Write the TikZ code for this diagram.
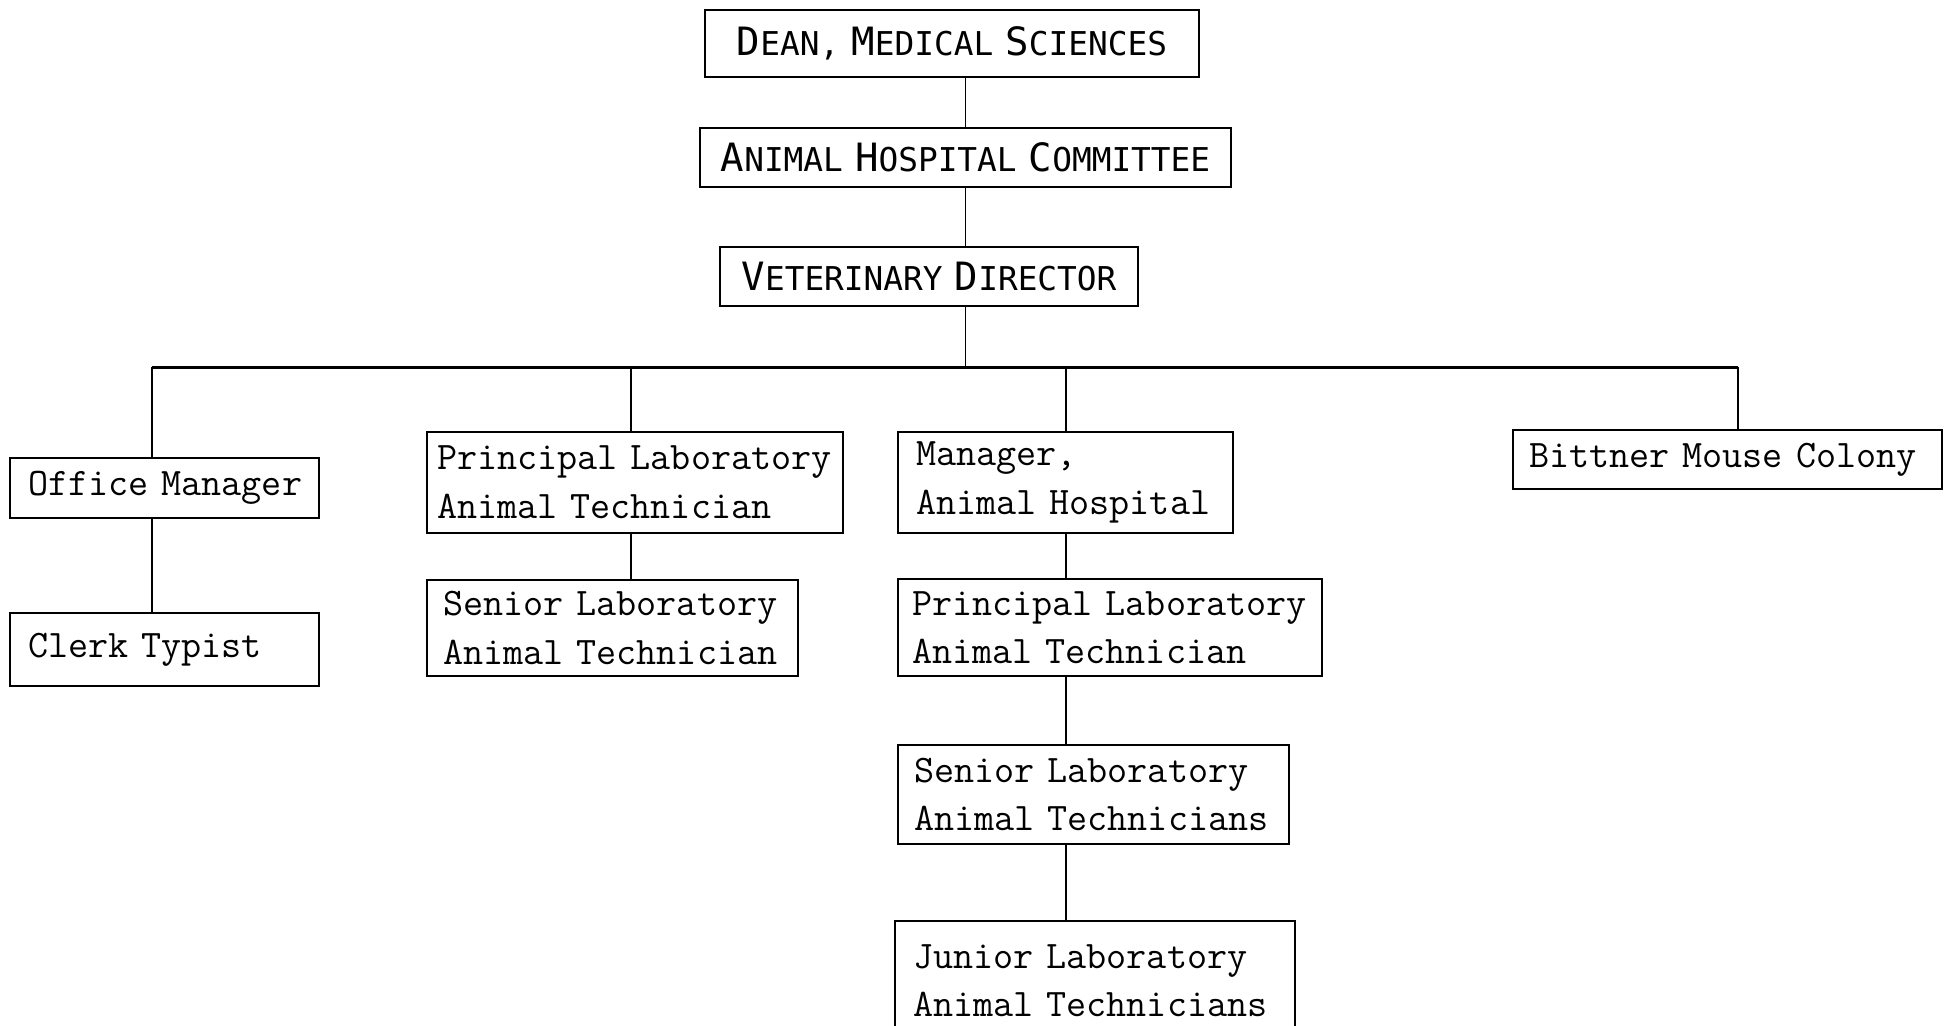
\documentclass[tikz,border=0pt]{standalone}
\usepackage{fontspec}
\newfontfamily\gothfont{DejaVu Sans Mono}
\newcommand\capw[2]{{\fontsize{19.5}{22}\selectfont #1}{\fontsize{16.4}{22}\selectfont #2}}
\newcommand\typset{\ttfamily\fontsize{19.5}{24.3}\selectfont}
\begin{document}
\begin{tikzpicture}[x=0.5pt,y=-0.5pt,
  capbox/.style={draw, line width=1.1pt, inner sep=0pt, font=\gothfont, align=center},
  lbox/.style={draw, line width=1.1pt, inner xsep=9pt, inner ysep=2pt, align=left, font=\typset},
  conn/.style={line width=0.8pt},
  barline/.style={line width=1.5pt}]
\useasboundingbox (0,0) rectangle (1952,1026);
\clip (0,0) rectangle (1952,1026);
% top boxes
\node[capbox, minimum width=247pt, minimum height=33.5pt] (dean) at (952,43.5)
  {\capw{D}{EAN,} \capw{M}{EDICAL} \capw{S}{CIENCES}};
\node[capbox, minimum width=265.5pt, minimum height=29.5pt] (ahc) at (965.5,157.5)
  {\capw{A}{NIMAL} \capw{H}{OSPITAL} \capw{C}{OMMITTEE}};
\node[capbox, minimum width=209pt, minimum height=29.5pt] (vd) at (929,276.5)
  {\capw{V}{ETERINARY} \capw{D}{IRECTOR}};
% lower boxes
\node[lbox, text width=136.5pt, minimum height=30pt] (om) at (164.5,488) {\mbox{Office Manager}};
\node[lbox, text width=136.5pt, minimum height=36.5pt] (ct) at (164.5,649.5) {\mbox{Clerk Typist}};
\node[lbox, text width=198pt, minimum height=50.5pt, inner xsep=5pt] (plat1) at (635,482.5) {\mbox{Principal Laboratory}\\\mbox{Animal Technician}};
\node[lbox, text width=169.5pt, minimum height=48pt, inner xsep=8pt] (slat1) at (612.5,628) {\mbox{Senior Laboratory}\\\mbox{Animal Technician}};
\node[lbox, text width=149.5pt, minimum height=50.5pt] (mah) at (1065.5,482.5) {\mbox{Manager,}\\\mbox{Animal Hospital}};
\node[lbox, text width=198pt, minimum height=48.5pt, inner xsep=7pt] (plat2) at (1110,627.5) {\mbox{Principal Laboratory}\\\mbox{Animal Technician}};
\node[lbox, text width=179.5pt, minimum height=49.5pt, inner xsep=8pt] (slat2) at (1093.5,794.5) {\mbox{Senior Laboratory}\\\mbox{Animal Technicians}};
\node[lbox, text width=182pt, minimum height=59.5pt] (jlat) at (1095,980.5) {\mbox{Junior Laboratory}\\\mbox{Animal Technicians}};
\node[lbox, text width=198.5pt, minimum height=29.5pt, inner xsep=8pt] (bmc) at (1727.5,459.5) {\mbox{Bittner Mouse Colony}};
% bar coordinates
\coordinate (bl) at (152,367);
\coordinate (b2) at (631,367);
\coordinate (b3) at (1066,367);
\coordinate (br) at (1738,367);
% connectors
\draw[conn] (ahc.north |- dean.south) -- (ahc.north);
\draw[conn] (ahc.south) -- (ahc.south |- vd.north);
\draw[conn] (ahc.south |- vd.south) -- (ahc.south |- bl);
\draw[barline] (bl) -- (br);
\draw[conn] (bl) -- (bl |- om.north);
\draw[conn] (bl |- om.south) -- (bl |- ct.north);
\draw[conn] (b2) -- (b2 |- plat1.north);
\draw[conn] (b2 |- plat1.south) -- (b2 |- slat1.north);
\draw[conn] (b3) -- (b3 |- mah.north);
\draw[conn] (b3 |- mah.south) -- (b3 |- plat2.north);
\draw[conn] (b3 |- plat2.south) -- (b3 |- slat2.north);
\draw[conn] (b3 |- slat2.south) -- (b3 |- jlat.north);
\draw[conn] (br) -- (br |- bmc.north);
\end{tikzpicture}
\end{document}
